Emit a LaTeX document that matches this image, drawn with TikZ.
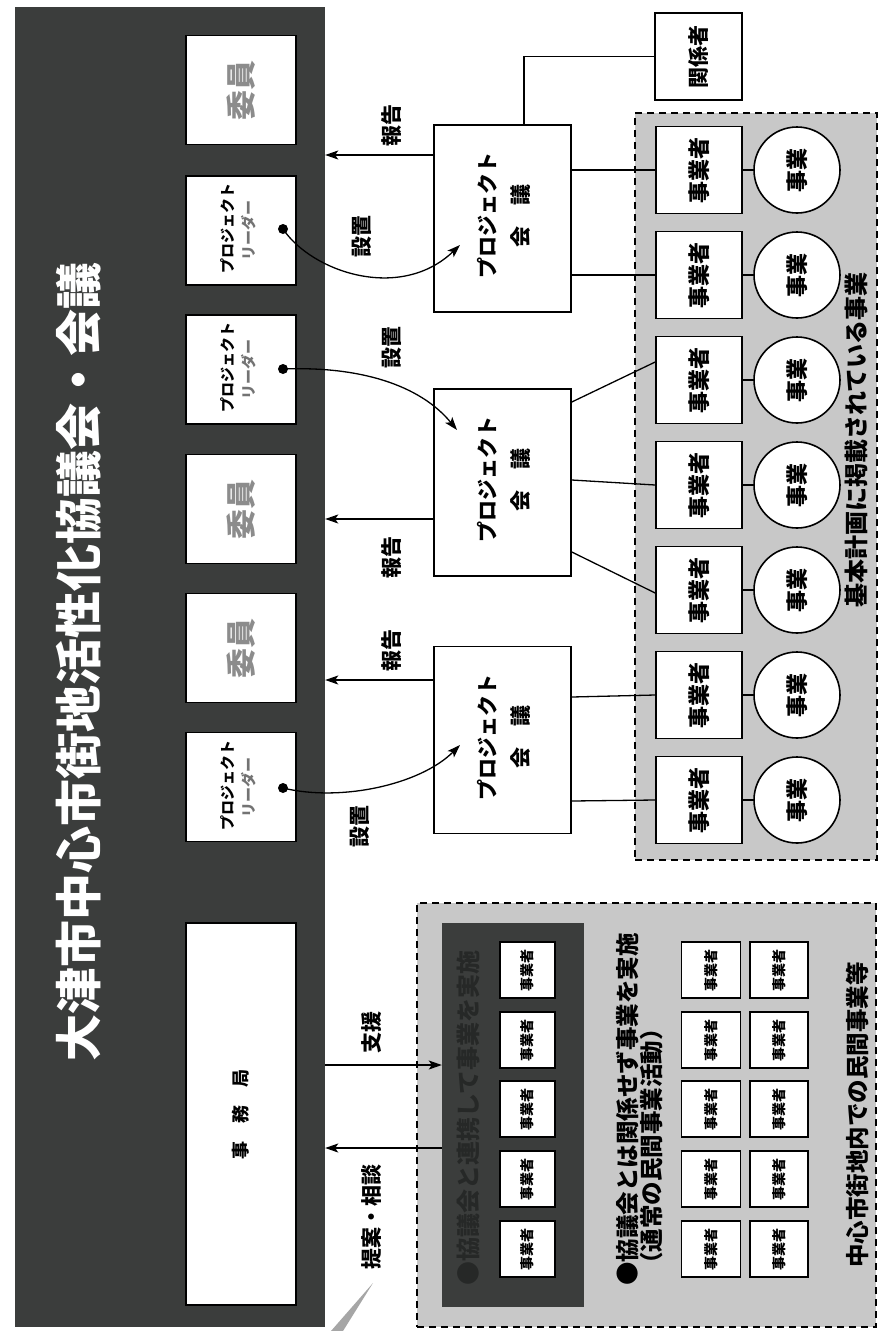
\documentclass[tikz,border=0pt]{standalone}
\usepackage{fontspec}
\setmainfont{Noto Sans CJK JP}
\usetikzlibrary{arrows.meta,calc}
\definecolor{darkbg}{HTML}{3B3D3C}
\definecolor{regionbg}{HTML}{C8C8C8}
\definecolor{iingray}{HTML}{8C8C8C}
\definecolor{innertext}{HTML}{262827}
\newcommand\myfs[1]{\fontsize{#1}{#1}\selectfont}
\begin{document}
\begin{tikzpicture}[x=1pt,y=-1pt,
  wbox/.style={draw=black, line width=1.6pt, fill=white, inner sep=0pt},
  rt/.style={rotate=90, inner sep=0pt, font=\bfseries},
  conn/.style={line width=1.3pt},
  arr/.style={line width=1.3pt, -{Stealth[length=13pt,width=9pt,inset=3pt]}},
  dregion/.style={draw=black, line width=1.8pt, dash pattern=on 7pt off 5pt, fill=regionbg, inner sep=0pt},
  dot/.style={circle, fill=black, minimum size=10pt, inner sep=0pt}
]
\useasboundingbox (0,0) rectangle (880,1331);
\fill[white] (0,0) rectangle (880,1331);

% main council box
\node[fill=darkbg, minimum width=310, minimum height=1320, inner sep=0pt] (council) at (170,667) {};
\node[rt, text=white, font=\bfseries\myfs{47}] (title) at (79,662) {大津市中心市街地活性化協議会・会議};

% white boxes inside council
\foreach \n/\y in {iin1/90, iin2/509, iin3/648} {
  \node[wbox, minimum width=110, minimum height=109] (\n) at (241,\y) {};
  \node[rt, text=iingray, font=\bfseries\myfs{30}] (\n t) at (\n) {委員};
}
\foreach \n/\y/\dy in {pl1/230.5/229, pl2/369.5/369, pl3/787/788} {
  \node[wbox, minimum width=110, minimum height=109] (\n) at (241,\y) {};
  \node[rt, font=\bfseries\myfs{15}] (\n a) at (228,\y-2) {プロジェクト};
  \node[rt, text=black!55, font=\bfseries\myfs{15}] (\n b) at (249,\y) {リーダー};
  \node[dot] (\n d) at (283,\dy) {};
}
\node[wbox, minimum width=110, minimum height=382] (jimu) at (241,1114) {};
\node[rt, font=\bfseries\myfs{18}] (jimut) at (jimu) {事　務　局};

% base plan region
\node[dregion, minimum width=242, minimum height=747] (base) at (756,486.5) {};
\node[rt, font=\bfseries\myfs{24}] (baset) at (856,440) {基本計画に掲載されている事業};

% private region
\node[dregion, minimum width=459, minimum height=424] (priv) at (646.5,1115) {};
\node[fill=darkbg, minimum width=142, minimum height=384, inner sep=0pt] (inner) at (513,1115) {};
\node[rt, text=innertext, font=\bfseries\myfs{24}, anchor=west] (innert) at (468,1286) {●協議会と連携して事業を実施};
\node[rt, font=\bfseries\myfs{23.5}, anchor=west] (privt1) at (628,1286) {●協議会とは関係せず事業を実施};
\node[rt, font=\bfseries\myfs{23.5}, anchor=west] (privt2) at (652,1276) {（通常の民間事業活動）};
\node[rt, font=\bfseries\myfs{23.5}] (privt3) at (857,1115) {中心市街地内での民間事業等};

\foreach \i/\y in {1/970,2/1040,3/1109,4/1179,5/1249} {
  \node[wbox, line width=1.3pt, minimum width=55, minimum height=56] (ia\i) at (527.5,\y) {};
  \node[rt, font=\bfseries\myfs{14}] (iat\i) at (ia\i) {事業者};
  \node[wbox, line width=1.3pt, minimum width=59, minimum height=56] (pb\i) at (711,\y) {};
  \node[rt, font=\bfseries\myfs{14}] (pbt\i) at (pb\i) {事業者};
  \node[wbox, line width=1.3pt, minimum width=58, minimum height=56] (pc\i) at (779,\y) {};
  \node[rt, font=\bfseries\myfs{14}] (pct\i) at (pc\i) {事業者};
}

% project meetings
\foreach \n/\y in {pm1/218.5, pm2/482.5, pm3/740} {
  \node[wbox, minimum width=137, minimum height=187] (\n) at (502.5,\y) {};
  \node[rt, align=center, font=\bfseries\myfs{21}] (\n t) at (504,\y-3) {プロジェクト\\[12pt]会　議};
}

% kankeisha
\node[wbox, minimum width=87, minimum height=87] (kank) at (698.5,56.5) {};
\node[rt, font=\bfseries\myfs{21}] (kankt) at (kank) {関係者};

% jigyosha and jigyo
\foreach \i/\y in {1/170,2/275,3/380,4/485,5/590,6/695,7/800} {
  \node[wbox, minimum width=86, minimum height=87] (jg\i) at (699,\y) {};
  \node[rt, font=\bfseries\myfs{22}] (jgt\i) at (jg\i) {事業者};
  \node[wbox, circle, minimum size=86] (jc\i) at (797,\y) {};
  \node[rt, font=\bfseries\myfs{22}] (jct\i) at (jc\i) {事業};
  \draw[conn] (jg\i.east) -- (jc\i.west);
}

% connections PM -> jigyosha
\draw[conn] (pm1.east |- 0,170) -- (jg1.west);
\draw[conn] (pm1.east |- 0,275) -- (jg2.west);
\draw[conn] (pm2.east |- 0,402) -- (jg3.west |- 0,362);
\draw[conn] (pm2.east |- 0,480) -- (jg4.west);
\draw[conn] (pm2.east |- 0,552) -- (jg5.west |- 0,593);
\draw[conn] (pm3.east |- 0,697) -- (jg6.west);
\draw[conn] (pm3.east |- 0,801) -- (jg7.west);
\draw[conn] (pm1.north -| 524,0) |- (kank.west);

% report arrows
\draw[arr] (pm1.west |- 0,155) -- (council.east |- 0,155);
\node[rt, font=\bfseries\myfs{21}] (rep1) at (392,125) {報告};
\draw[arr] (pm2.west |- 0,519) -- (council.east |- 0,519);
\node[rt, font=\bfseries\myfs{21}] (rep2) at (392,557) {報告};
\draw[arr] (pm3.west |- 0,680) -- (council.east |- 0,680);
\node[rt, font=\bfseries\myfs{21}] (rep3) at (392,650) {報告};

% setti curves
\coordinate (tip1) at (460,245);
\coordinate (tip2) at (457,430);
\coordinate (tip3) at (460,745);
\draw[arr] (pl1d.center) .. controls (312,272) and (400,302) .. (tip1);
\node[rt, font=\bfseries\myfs{21}] (set1) at (362,236) {設置};
\draw[arr] (pl2d.center) .. controls (360,366) and (420,385) .. (tip2);
\node[rt, font=\bfseries\myfs{21}] (set2) at (392,347) {設置};
\draw[arr] (pl3d.center) .. controls (340,802) and (420,785) .. (tip3);
\node[rt, font=\bfseries\myfs{21}] (set3) at (360,826) {設置};

% support arrows
\draw[arr] (council.east |- 0,1065) -- (inner.west |- 0,1065);
\node[rt, font=\bfseries\myfs{21}] (shien) at (372,1032) {支援};
\draw[arr] (inner.west |- 0,1148) -- (council.east |- 0,1148);
\node[rt, font=\bfseries\myfs{21}] (teian) at (372,1217) {提案・相談};

% wedge
\fill[black!35] (373,1283) -- (331,1331) -- (343,1331) -- cycle;
\end{tikzpicture}
\end{document}
